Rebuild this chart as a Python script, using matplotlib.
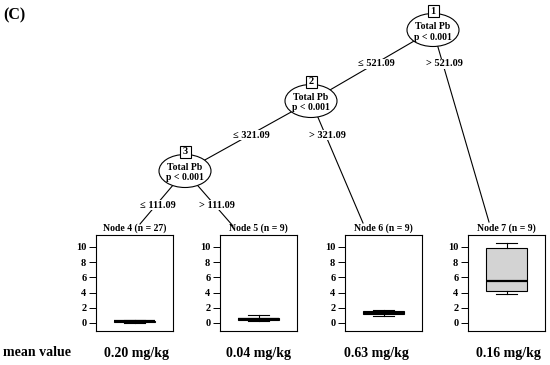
import matplotlib
matplotlib.use("Agg")
import matplotlib.pyplot as plt
from matplotlib.patches import Ellipse, Rectangle

# ---- data ----
inner_ids = [1, 2, 3]
inner_var = ["Total Pb", "Total Pb", "Total Pb"]
inner_p = ["p < 0.001", "p < 0.001", "p < 0.001"]
split_vals = ["521.09", "321.09", "111.09"]

term_ids = [4, 5, 6, 7]
term_n = [27, 9, 9, 9]
# boxplot stats per terminal node: lower whisker, q1, median, q3, upper whisker
whislo = [0.05, 0.30, 0.90, 3.80]
q1 = [0.15, 0.38, 1.15, 4.20]
med = [0.22, 0.55, 1.35, 5.55]
q3 = [0.32, 0.72, 1.55, 9.90]
whishi = [0.42, 1.00, 1.65, 10.50]
mean_labels = ["0.20 mg/kg", "0.04 mg/kg", "0.63 mg/kg", "0.16 mg/kg"]
yticks = [0, 2, 4, 6, 8, 10]

W, H = 550, 365
SERIF = "Liberation Serif"

fig = plt.figure(figsize=(W / 100, H / 100), dpi=100)
ax = fig.add_axes([0, 0, 1, 1])
ax.set_xlim(0, W)
ax.set_ylim(H, 0)
ax.axis("off")

# layout in pixels
inner_xy = {1: (433, 30), 2: (311, 101), 3: (185, 171)}
term_top = {4: (140, 224), 5: (233, 226), 6: (363, 223), 7: (489, 222)}
edges = [(1, 2, 0, True), (1, 7, 0, False), (2, 3, 1, True),
         (2, 6, 1, False), (3, 4, 2, True), (3, 5, 2, False)]

for parent, child, k, left in edges:
    px, py = inner_xy[parent]
    cx, cy = inner_xy.get(child, term_top.get(child))
    ax.plot([px, cx], [py, cy], color="black", lw=0.8, zorder=1)
    ly = py + 34
    lx = px + (cx - px) * (ly - py) / (cy - py)
    lab = ("\u2264 " if left else "> ") + split_vals[k]
    ax.text(lx + 2, ly, lab, ha="center", va="center", fontsize=7.5,
            fontfamily=SERIF, fontweight="bold", zorder=3,
            bbox=dict(facecolor="white", edgecolor="none", pad=0.5))

for i, nid in enumerate(inner_ids):
    x, y = inner_xy[nid]
    ax.add_patch(Ellipse((x, y), 52, 33, facecolor="white",
                         edgecolor="black", lw=0.8, zorder=2))
    ax.add_patch(Rectangle((x - 5.5, y - 25), 11, 12, facecolor="white",
                           edgecolor="black", lw=0.8, zorder=4))
    ax.text(x, y - 19, str(nid), ha="center", va="center", fontsize=7.5,
            fontfamily=SERIF, fontweight="bold", zorder=5)
    ax.text(x, y - 3.5, inner_var[i], ha="center", va="center", fontsize=7,
            fontfamily=SERIF, fontweight="bold", zorder=5)
    ax.text(x, y + 7, inner_p[i], ha="center", va="center", fontsize=7,
            fontfamily=SERIF, fontweight="bold", zorder=5)

# terminal panels
panel_x = [96, 220, 345, 468]
panel_w = 77
panel_top, panel_bot = 235, 331
mean_x = [137, 258, 376, 508]

for i, nid in enumerate(term_ids):
    x0 = panel_x[i]
    cx = x0 + panel_w / 2
    ax.text(cx, 228, f"Node {nid} (n = {term_n[i]})", ha="center",
            va="center", fontsize=7, fontfamily=SERIF, fontweight="bold",
            zorder=3)
    pax = fig.add_axes([x0 / W, 1 - panel_bot / H, panel_w / W,
                        (panel_bot - panel_top) / H])
    stats = [dict(whislo=whislo[i], q1=q1[i], med=med[i], q3=q3[i],
                  whishi=whishi[i], fliers=[])]
    pax.bxp(stats, positions=[0.5], widths=0.52, capwidths=0.26,
            patch_artist=True, showfliers=False,
            boxprops=dict(facecolor="#d3d3d3", edgecolor="black", lw=0.8),
            medianprops=dict(color="black", lw=1.6),
            whiskerprops=dict(color="black", lw=0.8),
            capprops=dict(color="black", lw=0.8))
    pax.set_xlim(0, 1)
    pax.set_ylim(-1.05, 11.55)
    pax.set_xticks([])
    pax.set_yticks(yticks)
    pax.set_yticklabels([str(t) for t in yticks], fontfamily=SERIF,
                        fontweight="bold", fontsize=7.5)
    pax.tick_params(axis="y", length=5, width=0.7, pad=2)
    for s in pax.spines.values():
        s.set_linewidth(0.8)

    ax.text(mean_x[i], 353, mean_labels[i], ha="center", va="center",
            fontsize=10, fontfamily=SERIF, fontweight="bold")

ax.text(3, 353, "mean value", ha="left", va="center", fontsize=10,
        fontfamily=SERIF, fontweight="bold")
ax.text(3, 15, "(C)", ha="left", va="center", fontsize=11.5,
        fontfamily=SERIF, fontweight="bold")

fig.savefig("out.png", dpi=100)
